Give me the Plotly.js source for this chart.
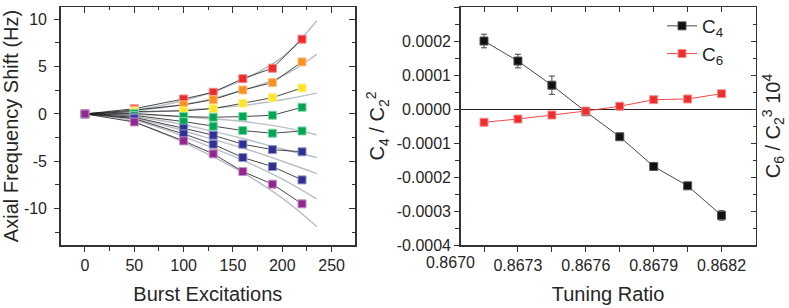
<!DOCTYPE html>
<html>
<head>
<meta charset="utf-8">
<script src="https://cdn.plot.ly/plotly-3.0.1.min.js"></script>
<style>
html,body{margin:0;padding:0;background:#fff;}
#chart{width:789px;height:308px;}
</style>
</head>
<body>
<div id="chart"></div>
<script>
// ---------- Left panel data ----------
const burst = [0, 50, 100, 130, 160, 190, 220];
const seriesNames = ['red','orange','yellow','green1','green2','blue1','blue2','purple'];
const shiftRed    = [0, 0.55, 1.58, 2.29, 3.73, 4.83, 7.9];
const shiftOrange = [0, 0.40, 0.95, 1.51, 2.53, 3.31, 5.5];
const shiftYellow = [0, 0.25, 0.32, 0.56, 1.13, 1.72, 2.75];
const shiftGreen1 = [0, 0.05, -0.28, -0.35, -0.28, -0.14, 0.7];
const shiftGreen2 = [0, -0.15, -0.81, -1.30, -1.76, -2.04, -1.8];
const shiftBlue1  = [0, -0.35, -1.51, -2.25, -3.20, -3.77, -4.0];
const shiftBlue2  = [0, -0.50, -2.11, -3.20, -4.61, -5.56, -6.97];
const shiftPurple = [0, -0.85, -2.85, -4.22, -6.09, -7.42, -9.5];

// gray theory / fit curves
const fitX  = [0, 40, 80, 120, 160, 200, 235];
const fit1 = [0, 0.3, 0.95, 2.0, 3.6, 6.0, 9.85];
const fit2 = [0, 0.25, 0.7, 1.4, 2.5, 4.0, 6.3];
const fit3 = [0, 0.1, 0.3, 0.55, 0.9, 1.5, 2.2];
const fit4 = [0, -0.05, -0.2, -0.45, -0.8, -1.4, -2.2];
const fit5 = [0, -0.2, -0.75, -1.6, -2.6, -3.7, -4.6];
const fit6 = [0, -0.3, -1.2, -2.4, -3.6, -5.0, -6.3];
const fit7 = [0, -0.4, -1.6, -3.2, -4.9, -6.9, -9.0];
const fit8 = [0, -0.55, -2.1, -4.0, -6.2, -8.9, -11.9];

const leftXTicks = [0, 50, 100, 150, 200, 250];
const leftXTickText = ['0', '50', '100', '150', '200', '250'];
const leftYTicks = [-10, -5, 0, 5, 10];
const leftYTickText = ['-10', '-5', '0', '5', '10'];

// ---------- Right panel data ----------
const tuning = [0.86715, 0.86730, 0.86745, 0.86760, 0.86775, 0.86790, 0.86805, 0.86820];
const c4 = [0.000200, 0.000141, 0.000070, -0.000008, -0.0000817, -0.000169, -0.000226, -0.000313];
const c4err = [0.00002, 0.00002, 0.000027, 0.000005, 0.000004, 0.000004, 0.000006, 0.000014];
const c6 = [-0.000039, -0.0000295, -0.0000177, -0.000006, 0.000008, 0.0000274, 0.0000295, 0.0000451];

const rightXTicks = [0.8673, 0.8676, 0.8679, 0.8682];
const rightXTickText = ['0.8673', '0.8676', '0.8679', '0.8682'];
const rightXFirstLabel = 0.8670;
const rightXFirstText = '0.8670';
const rightYTicks = [-0.0004, -0.0003, -0.0002, -0.0001, 0, 0.0001, 0.0002, 0.0003];
const rightYTickText = ['-0.0004', '-0.0003', '-0.0002', '-0.0001', '0.0000', '0.0001', '0.0002', '0.0003'];

// ---------- styling ----------
const W = 789;
const axCol = '#333333';
const txtCol = '#262626';
const fontFam = 'Liberation Sans, Arial, sans-serif';
const colors = {
  red: '#ec2b2b', orange: '#f6921e', yellow: '#fbe625', green1: '#00a651',
  green2: '#00a651', blue1: '#2e3192', blue2: '#2e3192', purple: '#92278f'
};
const edge = {
  red: '#f58a8a', orange: '#fbc08a', yellow: '#fdf29a', green1: '#7fd2a8',
  green2: '#7fd2a8', blue1: '#8f91c6', blue2: '#8f91c6', purple: '#c691c4'
};

const leftXRange = [-24.6, 273.7];
const leftYRange = [-13.85, 11.3];
const rightXRange = [0.867047, 0.86835];
const rightYRange = [-0.0004, 0.0003];
const leftDom = [60.7 / W, 355 / W];
const rightDom = [460.7 / W, 755.5 / W];

const traces = [];
const fits = [fit1, fit2, fit3, fit4, fit5, fit6, fit7, fit8];
fits.forEach(f => traces.push({
  x: fitX, y: f, mode: 'lines', line: {color: '#b9bfc6', width: 1.4, shape: 'spline'},
  xaxis: 'x', yaxis: 'y', showlegend: false, hoverinfo: 'skip'
}));
const shifts = {red: shiftRed, orange: shiftOrange, yellow: shiftYellow, green1: shiftGreen1,
  green2: shiftGreen2, blue1: shiftBlue1, blue2: shiftBlue2, purple: shiftPurple};
seriesNames.forEach(n => traces.push({
  x: burst, y: shifts[n], mode: 'lines+markers',
  line: {color: '#1a1a1a', width: 0.8},
  marker: {symbol: 'square', size: 8, color: colors[n], line: {color: edge[n], width: 1}},
  xaxis: 'x', yaxis: 'y', showlegend: false
}));
// dummy traces for overlay (inward-tick) axes
traces.push({x: [], y: [], xaxis: 'x3', yaxis: 'y', showlegend: false});
traces.push({x: [], y: [], xaxis: 'x', yaxis: 'y3', showlegend: false});
traces.push({x: [], y: [], xaxis: 'x4', yaxis: 'y2', showlegend: false});

traces.push({
  x: tuning, y: c4, name: 'C<sub>4</sub>', mode: 'lines+markers',
  line: {color: '#333', width: 0.9},
  marker: {symbol: 'square', size: 8, color: '#111', line: {color: '#555', width: 1}},
  error_y: {type: 'data', array: c4err, visible: true, color: '#444', thickness: 1, width: 3},
  xaxis: 'x2', yaxis: 'y2'
});
traces.push({
  x: tuning, y: c6, name: 'C<sub>6</sub>', mode: 'lines+markers',
  line: {color: '#ee3333', width: 0.9},
  marker: {symbol: 'square', size: 8, color: '#ee2e2e', line: {color: '#f59090', width: 1}},
  xaxis: 'x2', yaxis: 'y4'
});

const tickFont = {family: fontFam, size: 16, color: txtCol};
const titleFont = {family: fontFam, size: 20, color: txtCol};

const baseAx = {
  showline: true, linecolor: axCol, linewidth: 1.5, mirror: true,
  showgrid: false, zeroline: false, ticks: 'outside', ticklen: 5, tickwidth: 1,
  tickcolor: axCol, tickfont: tickFont
};

const layout = {
  width: 789, height: 308,
  margin: {l: 0, r: 0, t: 7, b: 63},
  paper_bgcolor: '#fff', plot_bgcolor: 'rgba(0,0,0,0)',
  font: {family: fontFam, color: txtCol},
  showlegend: true,
  legend: {
    x: 662 / W, y: 1.0, xanchor: 'left', yanchor: 'top',
    bgcolor: 'rgba(0,0,0,0)', font: {family: fontFam, size: 19, color: txtCol},
    tracegroupgap: 0, itemwidth: 30
  },
  xaxis: Object.assign({}, baseAx, {
    domain: leftDom, anchor: 'y', range: leftXRange,
    tickmode: 'array', tickvals: leftXTicks, ticktext: leftXTickText,
    minor: {tickvals: [-25, 25, 75, 125, 175, 225, 275], ticks: 'outside', ticklen: 4, tickcolor: axCol},
    title: {text: 'Burst Excitations', font: titleFont, standoff: 14}
  }),
  yaxis: Object.assign({}, baseAx, {
    domain: [0, 1], anchor: 'x', range: leftYRange,
    tickmode: 'array', tickvals: leftYTicks, ticktext: leftYTickText,
    ticklabelstandoff: 4,
    minor: {tickvals: [-12.5, -7.5, -2.5, 2.5, 7.5], ticks: 'outside', ticklen: 4, tickcolor: axCol},
    title: {text: 'Axial Frequency Shift (Hz)', font: titleFont, standoff: 8}
  }),
  xaxis3: {
    overlaying: 'x', anchor: 'y', side: 'top', range: leftXRange,
    showline: false, showgrid: false, zeroline: false, showticklabels: false,
    ticks: 'inside', ticklen: 6, tickcolor: axCol, tickmode: 'array', tickvals: leftXTicks,
    minor: {tickvals: [25, 75, 125, 175, 225], ticks: 'inside', ticklen: 3, tickcolor: axCol}
  },
  yaxis3: {
    overlaying: 'y', anchor: 'x', side: 'right', range: leftYRange,
    showline: false, showgrid: false, zeroline: false, showticklabels: false,
    ticks: 'inside', ticklen: 6, tickcolor: axCol, tickmode: 'array', tickvals: leftYTicks,
    minor: {tickvals: [-12.5, -7.5, -2.5, 2.5, 7.5], ticks: 'inside', ticklen: 3, tickcolor: axCol}
  },
  xaxis2: Object.assign({}, baseAx, {
    domain: rightDom, anchor: 'y2', range: rightXRange,
    tickmode: 'array', tickvals: rightXTicks, ticktext: rightXTickText,
    minor: {tickvals: tuning.filter((v, i) => i % 2 === 0), ticks: 'outside', ticklen: 5, tickcolor: axCol},
    title: {text: 'Tuning Ratio', font: titleFont, standoff: 14}
  }),
  yaxis2: Object.assign({}, baseAx, {
    domain: [0, 1], anchor: 'x2', range: rightYRange,
    tickmode: 'array', tickvals: rightYTicks, ticktext: rightYTickText,
    minor: {dtick: 0.00005, tick0: 0, ticks: 'outside', ticklen: 4, tickcolor: axCol},
    zeroline: true, zerolinecolor: '#222', zerolinewidth: 1,
    title: {text: 'C<sub>4</sub> / C<sub>2</sub><sup>2</sup>', font: titleFont, standoff: 6}
  }),
  xaxis4: {
    overlaying: 'x2', anchor: 'y2', side: 'top', range: rightXRange,
    showline: false, showgrid: false, zeroline: false, showticklabels: false,
    ticks: 'inside', ticklen: 5, tickcolor: axCol, tickmode: 'array', tickvals: tuning
  },
  yaxis4: {
    overlaying: 'y2', anchor: 'x2', side: 'right', range: rightYRange,
    showline: false, showgrid: false, zeroline: false, showticklabels: false,
    ticks: 'inside', ticklen: 5, tickcolor: axCol, tickmode: 'array', tickvals: rightYTicks,
    minor: {dtick: 0.00005, tick0: 0, ticks: 'inside', ticklen: 3, tickcolor: axCol},
    title: {text: 'C<sub>6</sub> / C<sub>2</sub><sup>3</sup> 10<sup>4</sup>', font: titleFont, standoff: 10}
  },
  annotations: [{
    xref: 'paper', yref: 'paper',
    x: rightDom[0] + (rightXFirstLabel - rightXRange[0]) / (rightXRange[1] - rightXRange[0]) * (rightDom[1] - rightDom[0]),
    y: 0, xanchor: 'center', yanchor: 'top', yshift: -7,
    text: rightXFirstText, showarrow: false, font: tickFont
  }]
};

Plotly.newPlot('chart', traces, layout, {staticPlot: true, displayModeBar: false});
</script>
</body>
</html>
